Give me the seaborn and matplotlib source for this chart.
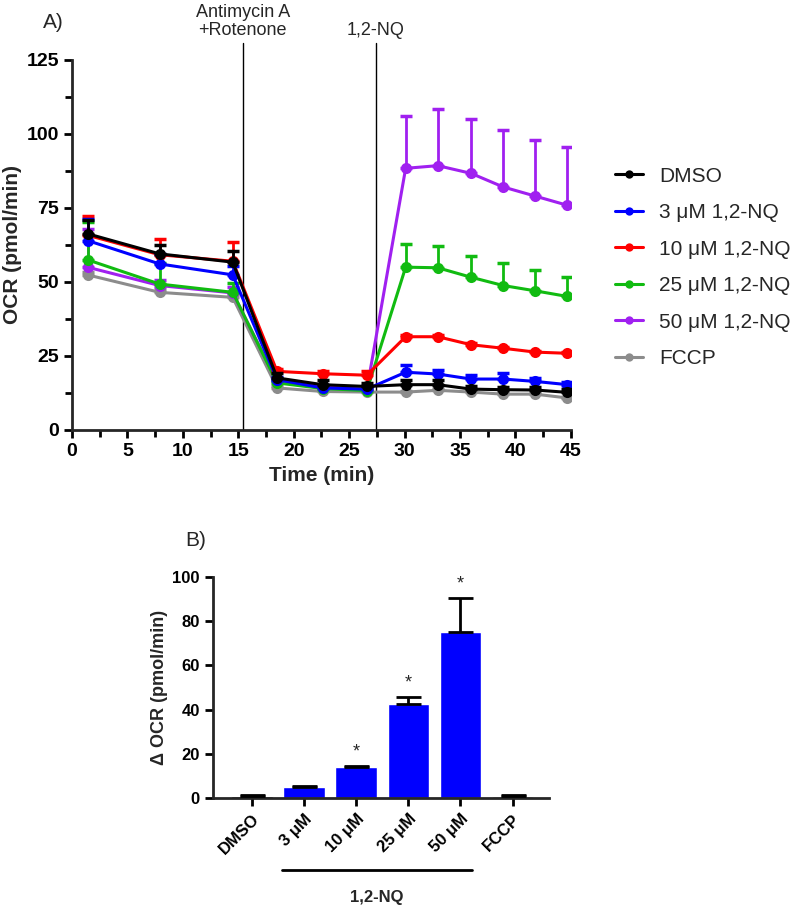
import numpy as np
import pandas as pd
import matplotlib
matplotlib.use("Agg")
import matplotlib.pyplot as plt
import matplotlib.transforms as mtransforms
from matplotlib.ticker import MultipleLocator
from matplotlib.lines import Line2D
import seaborn as sns

# ---- data ----
time_min = [1.4, 7.9, 14.5, 18.5, 22.6, 26.6, 30.1, 33.0, 36.0, 38.9, 41.8, 44.7]

dmso = [66.3, 59.5, 56.7, 17.6, 15.3, 14.7, 15.3, 15.3, 13.8, 13.6, 13.5, 12.7]
dmso_err = [4.6, 3.1, 3.6, 1.5, 1.5, 1.2, 1.5, 1.5, 1.0, 1.0, 1.0, 1.0]
nq3 = [64.0, 56.1, 52.4, 17.0, 14.2, 13.8, 19.5, 18.9, 17.2, 17.2, 16.4, 15.3]
nq3_err = [7.4, 3.5, 3.0, 1.0, 1.0, 1.0, 2.6, 1.5, 1.5, 2.1, 1.2, 0.8]
nq10 = [65.8, 59.2, 57.0, 19.8, 19.0, 18.5, 31.5, 31.5, 28.8, 27.6, 26.3, 25.9]
nq10_err = [6.6, 5.4, 6.5, 0.8, 0.8, 1.5, 0.5, 0.5, 0.5, 0.5, 0.5, 0.5]
nq25 = [57.5, 49.3, 46.5, 15.9, 14.0, 13.3, 55.0, 54.8, 51.6, 48.8, 47.0, 45.1]
nq25_err = [12.8, 7.0, 3.0, 1.0, 0.8, 0.8, 7.9, 7.3, 7.3, 7.6, 7.1, 6.7]
nq50 = [55.0, 48.8, 46.3, 16.4, 14.7, 13.6, 88.4, 89.3, 86.7, 82.1, 79.0, 75.9]
nq50_err = [13.0, 2.0, 2.0, 0.8, 0.5, 0.5, 17.8, 19.3, 18.5, 19.1, 18.8, 19.6]
fccp = [52.4, 46.5, 44.8, 14.2, 13.0, 12.8, 12.8, 13.4, 12.8, 12.1, 12.1, 10.8]
fccp_err = [1.0, 1.0, 1.0, 0.8, 0.8, 0.8, 0.5, 0.5, 0.5, 0.5, 0.5, 0.5]

series_names = ["DMSO", "3 μM 1,2-NQ", "10 μM 1,2-NQ", "25 μM 1,2-NQ", "50 μM 1,2-NQ", "FCCP"]
series_vals = [dmso, nq3, nq10, nq25, nq50, fccp]
series_errs = [dmso_err, nq3_err, nq10_err, nq25_err, nq50_err, fccp_err]
series_colors = ["#000000", "#0000ff", "#ff0000", "#11bb11", "#a020f0", "#8c8c8c"]

injections = [15.4, 27.4]
injection_labels = ["Antimycin A\n+Rotenone", "1,2-NQ"]

bar_labels = ["DMSO", "3 μM", "10 μM", "25 μM", "50 μM", "FCCP"]
bar_vals = [1.0, 5.2, 14.0, 42.5, 75.1, 1.0]
bar_errs = [0.2, 0.3, 0.4, 3.1, 15.6, 0.3]
bar_colors = ["#000000", "#0000ff", "#0000ff", "#0000ff", "#0000ff", "#999999"]
bar_signif = [False, False, True, True, True, False]

# ---- style ----
sns.set_style("ticks")
plt.rcParams["font.family"] = ["Liberation Sans", "DejaVu Sans"]
plt.rcParams["axes.linewidth"] = 2.0

fig = plt.figure(figsize=(7.93, 9.09), dpi=100)

# ================= A) time course =================
ax = fig.add_axes([0.0908, 0.527, 0.629, 0.407])

df = pd.DataFrame({
    "time": np.tile(time_min, len(series_names)),
    "ocr": np.concatenate(series_vals),
    "group": np.repeat(series_names, len(time_min)),
})

# draw from back to front so black ends up on top
order = [5, 4, 3, 2, 1, 0]
for i in order:
    name = series_names[i]
    sub = df[df["group"] == name]
    ax.errorbar(time_min, series_vals[i], yerr=[np.zeros(len(time_min)), series_errs[i]],
                fmt="none", ecolor=series_colors[i], elinewidth=2.0, capsize=4,
                capthick=2.5, zorder=2 + (5 - i))
    sns.lineplot(data=sub, x="time", y="ocr", color=series_colors[i], marker="o",
                 markersize=8, markeredgewidth=0, linewidth=2.2, ax=ax,
                 legend=False, zorder=3 + (5 - i))

trans = mtransforms.blended_transform_factory(ax.transData, ax.transAxes)
for xi, lab in zip(injections, injection_labels):
    ax.plot([xi, xi], [0, 1.046], color="black", linewidth=1.0, transform=trans,
            clip_on=False, zorder=1)
    ax.text(xi, 1.058, lab, transform=trans, ha="center", va="bottom",
            fontsize=13, linespacing=1.05)

ax.set_xlim(0, 45)
ax.set_ylim(0, 125)
ax.xaxis.set_major_locator(MultipleLocator(5))
ax.xaxis.set_minor_locator(MultipleLocator(2.5))
ax.yaxis.set_major_locator(MultipleLocator(25))
ax.yaxis.set_minor_locator(MultipleLocator(12.5))
ax.tick_params(which="both", width=2.0, colors="black")
ax.tick_params(which="major", length=6, labelsize=14)
ax.tick_params(which="minor", length=5)
for t in ax.get_xticklabels() + ax.get_yticklabels():
    t.set_fontweight("bold")
ax.set_xlabel("Time (min)", fontsize=15, fontweight="bold", labelpad=4)
ax.set_ylabel("OCR (pmol/min)", fontsize=15, fontweight="bold", labelpad=3)
sns.despine(ax=ax)

handles = [Line2D([0], [0], color=c, marker="o", markersize=6, linewidth=2.2,
                  markeredgewidth=0) for c in series_colors]
ax.legend(handles, series_names, loc="upper left", bbox_to_anchor=(1.088, 0.712),
          frameon=False, fontsize=15, handlelength=1.35, labelspacing=0.84,
          handletextpad=0.8, borderpad=0, borderaxespad=0)

fig.text(43 / 793, 1 - 23 / 909, "A)", fontsize=15, va="center", ha="left")

# ================= B) delta OCR bars =================
bx = fig.add_axes([0.2686, 0.1221, 0.4237, 0.2431])
bar_df = pd.DataFrame({"cond": bar_labels, "val": bar_vals})
sns.barplot(data=bar_df, x="cond", y="val", hue="cond", palette=bar_colors,
            width=0.8, legend=False, ax=bx, saturation=1)
xs = np.arange(len(bar_labels))
bx.errorbar(xs, bar_vals, yerr=[np.zeros(len(xs)), bar_errs], fmt="none",
            ecolor="black", elinewidth=2.0, capsize=9, capthick=2.0, zorder=3)
for x, v, e, s in zip(xs, bar_vals, bar_errs, bar_signif):
    if s:
        bx.annotate("*", (x, v + e), xytext=(0, 4), textcoords="offset points",
                    ha="center", va="bottom", fontsize=13)

bx.set_xlim(-0.75, 5.7)
bx.set_ylim(0, 100)
bx.yaxis.set_major_locator(MultipleLocator(20))
bx.tick_params(which="major", width=2.0, length=6, labelsize=12, colors="black")
bx.set_xticks(xs)
bx.set_xticklabels(bar_labels, rotation=45, ha="right", rotation_mode="anchor")
for t in bx.get_xticklabels() + bx.get_yticklabels():
    t.set_fontweight("bold")
bx.set_xlabel("")
bx.set_ylabel("Δ OCR (pmol/min)", fontsize=13, fontweight="bold", labelpad=3)
sns.despine(ax=bx)

trans_b = mtransforms.blended_transform_factory(bx.transData, bx.transAxes)
bx.plot([0.57, 4.22], [-0.326, -0.326], color="black", linewidth=2.0,
        transform=trans_b, clip_on=False)
bx.text(2.4, -0.45, "1,2-NQ", transform=trans_b, ha="center", va="center",
        fontsize=12, fontweight="bold")

fig.text(185 / 793, 1 - 541 / 909, "B)", fontsize=15, va="center", ha="left")

fig.savefig("out.png", dpi=100)
